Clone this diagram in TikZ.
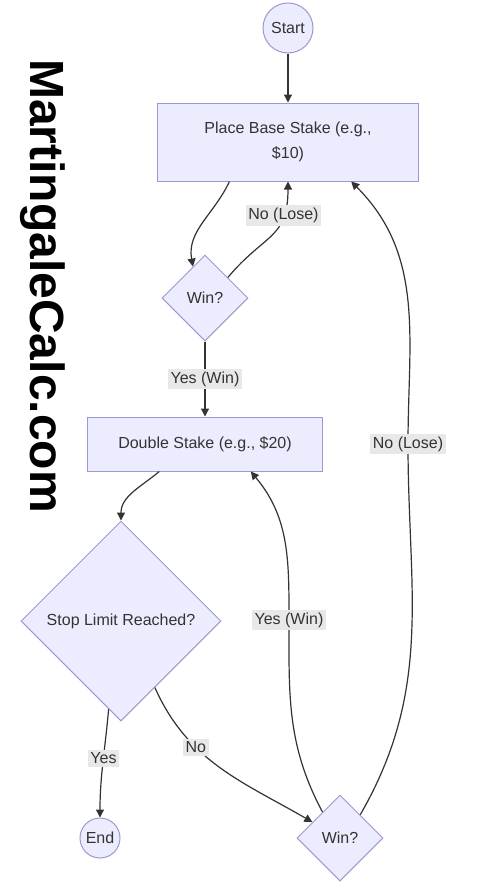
\documentclass[tikz,border=0pt]{standalone}
\usepackage{fontspec}
\setmainfont{Liberation Sans}
\usetikzlibrary{shapes.geometric,arrows.meta}
\definecolor{nodefill}{HTML}{ECECFF}
\definecolor{nodeline}{HTML}{A097CF}
\definecolor{edgeline}{HTML}{333333}
\definecolor{labelbg}{HTML}{E8E8E8}

\begin{document}
\begin{tikzpicture}[x=0.75pt, y=0.75pt, >={Triangle[length=6pt,width=6pt]},
    base/.style={draw=nodeline, fill=nodefill, text=edgeline, line width=0.75pt,
                 inner sep=0pt, font=\fontsize{12}{18.75}\selectfont},
    term node/.style={base, circle},
    task node/.style={base, rectangle, align=center},
    check node/.style={base, diamond, aspect=1},
    flow/.style={->, draw=edgeline, line width=0.9pt},
    tag/.style={fill=labelbg, text=edgeline, inner sep=2pt, font=\fontsize{12}{14}\selectfont}]

  \useasboundingbox (0,0) rectangle (482,-890);

  % watermark down the left side
  \node[rotate=-90, font=\fontsize{36}{36}\selectfont\bfseries] (brand) at (43,-286) {MartingaleCalc.com};

  % main column
  \node[term node, minimum size=37.5pt] (start) at (288,-28) {Start};
  \node[task node, minimum width=195.75pt, minimum height=58.5pt] (base) at (288,-142) {Place Base Stake (e.g.,\\ \$10)};
  \node[check node, minimum size=64.5pt] (win1) at (205,-298) {Win?};
  \node[task node, minimum width=176.25pt, minimum height=40.5pt] (double) at (205,-444) {Double Stake (e.g., \$20)};
  \node[check node, minimum size=150pt] (limit) at (121,-621) {Stop Limit Reached?};
  \node[term node, minimum size=30pt] (end) at (100,-838) {End};
  \node[check node, minimum size=64.5pt] (win2) at (340,-838) {Win?};

  % bends of the two long return lines
  \coordinate (backwin) at (289,-620);
  \coordinate (backlose) at (408,-444);

  \draw[flow] (start) -- (base);
  \draw[flow] (base.-146) to[out=-115, in=100] (win1.111);
  \draw[flow] (win1.42) to[out=50, in=-90, looseness=1.3] node[tag, pos=0.74] {No (Lose)} (base.south);
  \draw[flow] (win1) -- node[tag] {Yes (Win)} (double);
  \draw[flow] (double.-149) to[out=-140, in=90] (limit.north);
  \draw[flow] (limit.-98) to[out=-95, in=90] node[tag, pos=0.45] {Yes} (end.north);
  \draw[flow] (limit.-63) to[out=-66, in=150] node[tag, pos=0.34] {No} (win2.150);
  \draw[flow] (win2.124) to[out=118, in=-90] (backwin) node[tag] {Yes (Win)}
                          to[out=90, in=-50] (double.-31);
  \draw[flow] (win2.49) to[out=60, in=-90] (backlose) node[tag] {No (Lose)}
                          to[out=90, in=-45] (base.-32);

\end{tikzpicture}
\end{document}
